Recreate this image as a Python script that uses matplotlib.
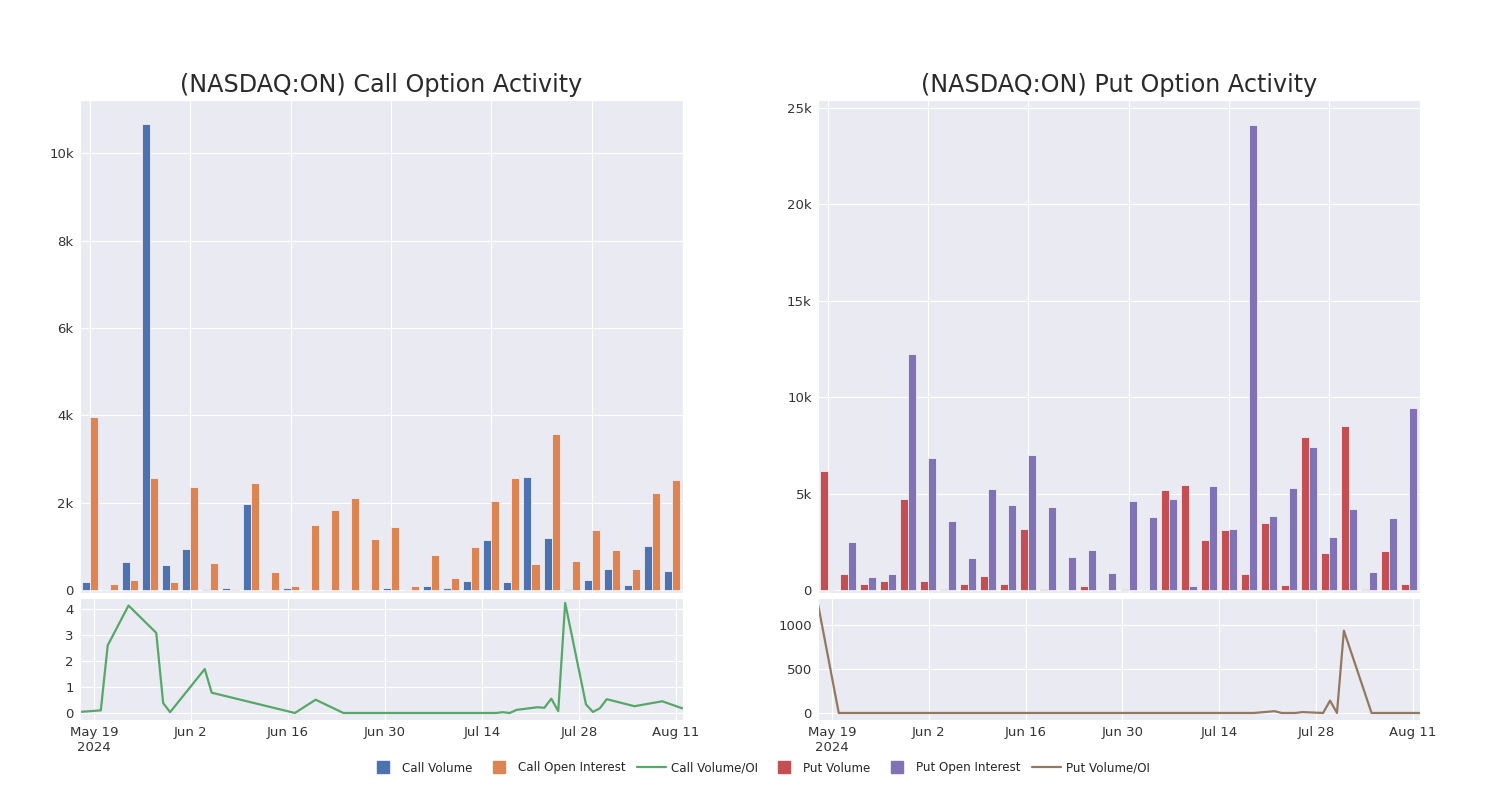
import numpy as np
import pandas as pd
import seaborn as sns
from matplotlib import pyplot as plt
from matplotlib.lines import Line2D
from matplotlib.ticker import FuncFormatter

sns.set_style('darkgrid')
plt.rcParams['font.family'] = ['DejaVu Sans']

# fechas de cada grupo
fechas = pd.to_datetime([
    '2024-05-17', '2024-05-20', '2024-05-21', '2024-05-24', '2024-05-28',
    '2024-05-29', '2024-05-30', '2024-06-04', '2024-06-05', '2024-06-17',
    '2024-06-20', '2024-06-24', '2024-07-01', '2024-07-09', '2024-07-16',
    '2024-07-17', '2024-07-18', '2024-07-19', '2024-07-22', '2024-07-23',
    '2024-07-24', '2024-07-25', '2024-07-26', '2024-07-29', '2024-07-30',
    '2024-07-31', '2024-08-01', '2024-08-05', '2024-08-09', '2024-08-12'])

call_volume = [183, 10, 640, 10660, 572, 945, 15, 35, 1960, 0,
               45, 2, 2, 2, 2, 40, 0, 90, 50, 205,
               1135, 175, 2580, 1200, 30, 236, 488, 115, 1000, 435]
call_oi = [3960, 130, 236, 2570, 183, 2355, 625, 21, 2450, 420,
           90, 1490, 1840, 2110, 1170, 1450, 85, 800, 275, 990,
           2030, 2560, 600, 3570, 663, 1370, 915, 473, 2210, 2520]
call_ratio = [0.04, 0.1, 2.6, 4.13, 3.08, 0.38, 0.03, 1.69, 0.78, 0.0,
              0.51, 0.0, 0.0, 0.0, 0.0, 0.03, 0.0, 0.12, 0.22, 0.2,
              0.55, 0.07, 4.23, 0.33, 0.04, 0.18, 0.53, 0.26, 0.45, 0.17]

put_volume = [6190, 845, 293, 465, 4740, 465, 70, 310, 707, 330,
              3170, 30, 0, 190, 0, 40, 20, 5190, 5430, 2600,
              3120, 828, 3450, 276, 7950, 1930, 8520, 40, 2000, 293]
put_oi = [5, 2480, 655, 828, 12260, 6840, 3590, 1640, 5260, 4410,
          7000, 4310, 1710, 2070, 860, 4600, 3760, 4690, 225, 5410,
          3170, 24120, 3830, 5280, 7430, 2720, 4220, 914, 3740, 9430]
put_ratio = [1236, 0, 0, 0, 0, 0, 0, 0, 0, 0,
             0, 0, 0, 0, 0, 0, 0, 0, 20, 0,
             0, 0, 10, 0, 140, 0, 935, 0, 0, 0]

tick_fechas = pd.to_datetime(['2024-05-19', '2024-06-02', '2024-06-16', '2024-06-30',
                              '2024-07-14', '2024-07-28', '2024-08-11'])
tick_textos = ['May 19\n2024', 'Jun 2', 'Jun 16', 'Jun 30', 'Jul 14', 'Jul 28', 'Aug 11']

azul, naranja, verde = '#4C72B0', '#DD8452', '#55A868'
rojo, morado, marron = '#C44E52', '#8172B3', '#937860'


def fmt_k(v, pos):
    if v == 0:
        return '0'
    return '%gk' % (v / 1000)


fig = plt.figure(figsize=(15, 8), dpi=100)

paneles = [
    (80, 603, call_volume, call_oi, call_ratio, azul, naranja, verde,
     '(NASDAQ:ON) Call Option Activity', (-70, 11220), np.arange(0, 10001, 2000),
     (-0.27, 4.42), [0, 1, 2, 3, 4]),
    (818, 602, put_volume, put_oi, put_ratio, rojo, morado, marron,
     '(NASDAQ:ON) Put Option Activity', (-160, 25410), np.arange(0, 25001, 5000),
     (-80, 1306), [0, 500, 1000]),
]

x = np.arange(len(fechas))
for (izq, ancho, vol, oi, ratio, c1, c2, c3, titulo, ylim_b, yt_b, ylim_l, yt_l) in paneles:
    ax = fig.add_axes([izq / 1500, (800 - 593) / 800, ancho / 1500, 493 / 800])
    ax.bar(x - 0.2, vol, width=0.4, color=c1, edgecolor='#eeeef5', linewidth=0.6)
    ax.bar(x + 0.2, oi, width=0.4, color=c2, edgecolor='#eeeef5', linewidth=0.6)
    ax.set_xlim(-0.5, 29.55)
    ax.set_ylim(*ylim_b)
    ax.set_xticks(np.arange(0, 30, 5))
    ax.set_xticklabels([])
    ax.set_yticks(yt_b)
    ax.yaxis.set_major_formatter(FuncFormatter(fmt_k))
    ax.tick_params(axis='y', labelsize=9.5, pad=1, colors='#333333')
    ax.set_title(titulo, fontsize=17.2, color='#2a2a2a', pad=6)

    ax2 = fig.add_axes([izq / 1500, (800 - 720) / 800, ancho / 1500, 122 / 800])
    ax2.plot(fechas, ratio, color=c3, linewidth=1.6)
    ax2.set_xlim(fechas[0], fechas[-1])
    ax2.set_ylim(*ylim_l)
    ax2.set_yticks(yt_l)
    ax2.set_xticks(tick_fechas)
    ax2.set_xticklabels(tick_textos)
    ax2.tick_params(labelsize=9.5, pad=1, colors='#333333')

handles = [
    Line2D([], [], marker='s', linestyle='none', color=azul, markersize=8.5),
    Line2D([], [], marker='s', linestyle='none', color=naranja, markersize=8.5),
    Line2D([], [], color=verde, linewidth=1.6),
    Line2D([], [], marker='s', linestyle='none', color=rojo, markersize=8.5),
    Line2D([], [], marker='s', linestyle='none', color=morado, markersize=8.5),
    Line2D([], [], color=marron, linewidth=1.6),
]
etiquetas = ['Call Volume', 'Call Open Interest', 'Call Volume/OI',
             'Put Volume', 'Put Open Interest', 'Put Volume/OI']
fig.legend(handles, etiquetas, loc='center', bbox_to_anchor=(0.506, 0.04), ncol=6,
           frameon=False, fontsize=8.6, handlelength=2.4, handletextpad=0.4,
           columnspacing=1.0)

plt.savefig('out.png', dpi=100)
